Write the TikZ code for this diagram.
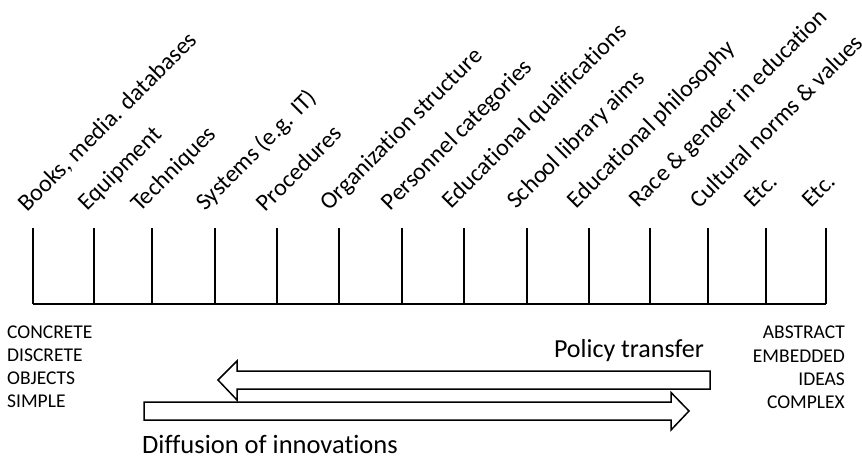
\documentclass[tikz,border=0pt]{standalone}
\usepackage{fontspec}
\setmainfont{Carlito}[Ligatures={NoCommon}]
\begin{document}
\begin{tikzpicture}[x=1pt,y=-1pt,
  lab/.style={font=\fontsize{24}{28}\selectfont, rotate=45, anchor=base west, inner sep=0pt},
  side/.style={font=\fontsize{19.5}{23}\selectfont, inner sep=0pt},
  big/.style={font=\fontsize{26}{30}\selectfont, inner sep=0pt},
  axis/.style={line width=1.6pt, black},
  fatarrow/.style={draw=black, fill=white, line width=1.5pt, line join=miter}]
\useasboundingbox (0,0) rectangle (862,457);
% tick coordinates
\foreach \i/\x in {1/33,2/94,3/152,4/215,5/277,6/339,7/402,8/464,9/527,10/589,11/650,12/708,13/766,14/826}{
  \coordinate (top\i) at (\x,228);
  \coordinate (bot\i) at (\x,304);
}
\draw[axis] (bot1) -- (bot14);
\foreach \i in {1,...,14}{ \draw[axis] (top\i) -- (bot\i); }
% labels
\node[lab] (l1) at (27,213) {Books, media. databases};
\node[lab] (l2) at (87.5,211.5) {Equipment};
\node[lab] (l3) at (140,213) {Techniques};
\node[lab] (l4) at (205,212) {Systems (e.g. IT)};
\node[lab] (l5) at (265.5,213) {Procedures};
\node[lab] (l6) at (329.5,211.5) {Organization structure};
\node[lab] (l7) at (390.5,211.5) {Personnel categories};
\node[lab] (l8) at (451.5,209.5) {Educational qualifications};
\node[lab] (l9) at (516,210) {School library aims};
\node[lab] (l10) at (576.5,209.5) {Educational philosophy};
\node[lab] (l11) at (638.5,208.5) {Race \& gender in education};
\node[lab] (l12) at (699.5,209.5) {Cultural norms \& values};
\node[lab] (l13) at (753.5,208.5) {Etc.};
\node[lab] (l14) at (811.5,208.5) {Etc.};
% left side words
\node[side, anchor=base west] (c1) at (7,338) {CONCRETE};
\node[side, anchor=base west] (c2) at (7,361) {DISCRETE};
\node[side, anchor=base west] (c3) at (7,384) {OBJECTS};
\node[side, anchor=base west] (c4) at (7,407) {SIMPLE};
% right side words
\node[side, anchor=base east] (a1) at (845,338) {ABSTRACT};
\node[side, anchor=base east] (a2) at (845,362) {EMBEDDED};
\node[side, anchor=base east] (a3) at (845,385) {IDEAS};
\node[side, anchor=base east] (a4) at (845,408) {COMPLEX};
% arrows
\draw[fatarrow] (144,402) -- (671,402) -- (671,392.5) -- (689,411) -- (671,430) -- (671,420) -- (144,420) -- cycle;
\draw[fatarrow] (710,371) -- (237,371) -- (237,361) -- (218,380) -- (237,400) -- (237,389) -- (710,389) -- cycle;
\node[big, anchor=base east] (pt) at (704,357) {Policy transfer};
\node[big, font=\fontsize{26.5}{31}\selectfont, anchor=base west] (di) at (142,453) {Diffusion of innovations};
\end{tikzpicture}
\end{document}
